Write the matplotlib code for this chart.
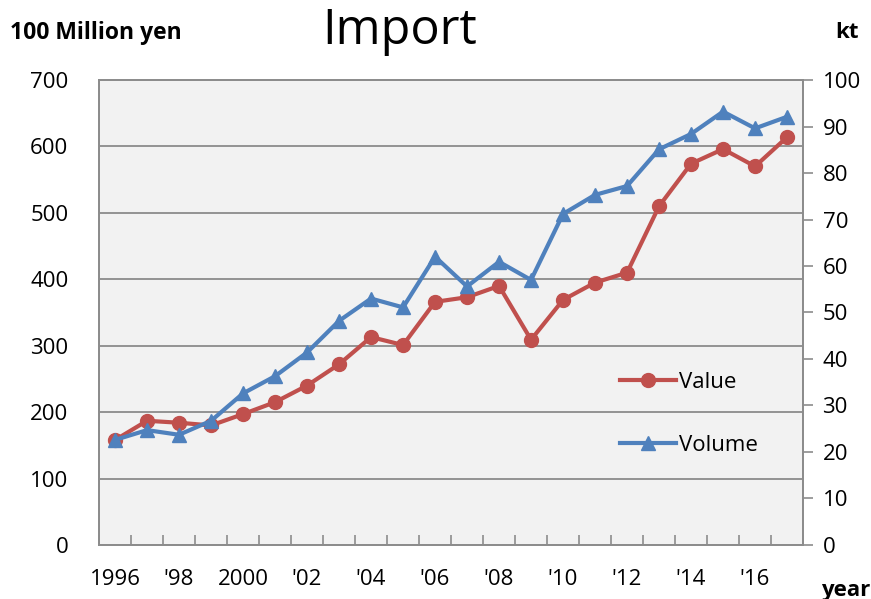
import numpy as np
import matplotlib
matplotlib.use('Agg')
import matplotlib.pyplot as plt

plt.rcParams['font.family'] = ['Open Sans', 'DejaVu Sans']

years = list(range(1996, 2018))
value = [158, 187, 184, 180, 197, 215, 240, 272, 313, 301, 366,
         373, 390, 309, 369, 395, 410, 510, 574, 596, 570, 614]
volume = [22.6, 24.7, 23.7, 26.7, 32.6, 36.3, 41.4, 48.2, 53.0, 51.1, 62.0,
          55.6, 60.9, 57.0, 71.2, 75.3, 77.2, 85.1, 88.4, 93.2, 89.6, 92.1]
label_years = list(range(1996, 2017, 2))
year_labels = ['1996', "'98", '2000', "'02", "'04", "'06", "'08", "'10", "'12", "'14", "'16"]

red = '#C0504D'
blue = '#4F81BD'
grey = '#8c8c8c'

fig = plt.figure(figsize=(8.71, 5.99), dpi=100)
ax = fig.add_axes([0.1137, 0.0902, 0.8083, 0.7762])
ax.set_facecolor('#f2f2f2')

l1, = ax.plot(years, value, color=red, lw=3, marker='o', ms=10, label='Value')
ax.set_ylim(0, 700)
ax.set_yticks(np.arange(0, 701, 100))
ax.set_xlim(1995.5, 2017.5)
ax.grid(axis='y', color=grey, lw=1.3)
ax.set_axisbelow(True)

# category boundary ticks (inside), labels every two years
ax.set_xticks(np.arange(1995.5, 2018, 1))
ax.set_xticklabels([])
ax.tick_params(axis='x', which='major', direction='in', length=7, color=grey, width=1.2)
ax.set_xticks(label_years, minor=True)
ax.set_xticklabels(year_labels, minor=True)
ax.tick_params(axis='x', which='minor', length=0, pad=17, labelsize=16)
ax.tick_params(axis='y', length=0, pad=22, labelsize=16)
for s in ax.spines.values():
    s.set_color(grey)
    s.set_linewidth(1.3)

ax2 = ax.twinx()
l2, = ax2.plot(years, volume, color=blue, lw=3, marker='^', ms=10, label='Volume')
ax2.set_ylim(0, 100)
ax2.set_yticks(np.arange(0, 101, 10))
ax2.tick_params(axis='y', direction='out', length=7, color=grey, width=1.2, pad=7, labelsize=16)
for s in ax2.spines.values():
    s.set_color(grey)
    s.set_linewidth(1.3)

ax2.legend(handles=[l1, l2], loc='upper left', bbox_to_anchor=(0.74, 0.372),
           frameon=False, fontsize=16, handlelength=2.5, handletextpad=0.15,
           labelspacing=1.9, borderpad=0, borderaxespad=0)

fig.text(0.459, 0.948, 'Import', fontsize=35, ha='center', va='center')
fig.text(0.012, 0.945, '100 Million yen', fontsize=16.5, fontweight='bold', va='center')
fig.text(0.973, 0.945, 'kt', fontsize=16, fontweight='bold', va='center', ha='center')
fig.text(0.971, 0.015, 'year', fontsize=16, fontweight='bold', va='center', ha='center')

fig.savefig('out.png', dpi=100)
